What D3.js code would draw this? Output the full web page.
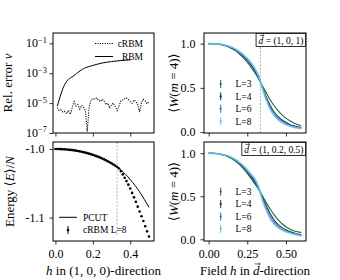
<!DOCTYPE html>
<html><head><meta charset="utf-8">
<script src="https://cdn.jsdelivr.net/npm/d3@7"></script>
<style>body{margin:0;background:#fff}svg{display:block}</style>
</head><body><svg id="c" width="340" height="280"></svg>
<script>
// ---------------- DATA ----------------
// Top-left: relative error vs h in (1,0,0)
const errH_cRBM = [0.01,0.02,0.03,0.04,0.05,0.06,0.07,0.08,0.09,0.10,0.11,0.12,0.13,0.14,0.15,0.16,0.17,0.18,0.19,0.20,0.21,0.22,0.23,0.24,0.25,0.26,0.27,0.28,0.29,0.30,0.31,0.32,0.33,0.34,0.35,0.36,0.37,0.38,0.39,0.40,0.41,0.42,0.43,0.44,0.45,0.46,0.47,0.48,0.49,0.50];
const err_cRBM = [5.0e-6,3.2e-6,3.5e-6,2.5e-6,2.8e-6,2.0e-6,3.2e-6,1.8e-6,5.0e-6,1.26e-5,
  6.3e-6,7.9e-6,4.0e-6,7.1e-6,5.6e-6,3.2e-6,1.26e-7,5.0e-6,1.6e-5,2.0e-5,
  1.8e-5,2.2e-5,1.6e-5,1.26e-5,1.8e-5,1.4e-5,7.9e-6,1.0e-5,4.5e-6,7.9e-6,
  1.0e-5,5.6e-6,3.2e-6,6.3e-6,1.4e-5,1.6e-5,2.0e-5,2.2e-5,1.8e-5,1.26e-5,
  1.0e-5,1.6e-5,1.26e-5,7.9e-6,2.5e-6,1.1e-5,1.8e-5,1.4e-5,8.9e-6,1.26e-5];
const errH_RBM = [0.01,0.05,0.10,0.15,0.20,0.25,0.30,0.35,0.40];
const err_RBM = [6.3e-6,1.8e-4,7.1e-4,2.0e-3,3.3e-3,4.8e-3,6.0e-3,7.1e-3,7.8e-3];
const errTicks = [1e-1,1e-3,1e-5,1e-7];
const errTickExp = ["\u22121","\u22123","\u22125","\u22127"];

// Bottom-left: energy
const pcutH = [0.00,0.05,0.10,0.15,0.20,0.25,0.30,0.35,0.40,0.45,0.50];
const pcutE = [-1.0000,-1.0005,-1.0020,-1.0046,-1.0085,-1.0138,-1.0209,-1.0305,-1.0445,-1.0625,-1.0850];
const eH = [0.00,0.01,0.02,0.03,0.04,0.05,0.06,0.07,0.08,0.09,0.10,0.11,0.12,0.13,0.14,0.15,0.16,0.17,0.18,0.19,0.20,0.21,0.22,0.23,0.24,0.25,0.26,0.27,0.28,0.29,0.30,0.31,0.32,0.33,0.34,0.35,0.36,0.37,0.38,0.39,0.40,0.41,0.42,0.43,0.44,0.45,0.46,0.47,0.48,0.49,0.50];
const eCRBM = [-1.0000,-1.0000,-1.0001,-1.0002,-1.0003,-1.0005,-1.0007,-1.0010,-1.0013,-1.0016,
  -1.0020,-1.0024,-1.0029,-1.0034,-1.0040,-1.0046,-1.0053,-1.0060,-1.0068,-1.0076,
  -1.0085,-1.0094,-1.0104,-1.0115,-1.0126,-1.0138,-1.0151,-1.0164,-1.0178,-1.0193,
  -1.0209,-1.0226,-1.0244,-1.0263,-1.0285,-1.0325,-1.0370,-1.0418,-1.0468,-1.0520,
  -1.0575,-1.0640,-1.0705,-1.0770,-1.0840,-1.0910,-1.0980,-1.1050,-1.1125,-1.1200,-1.1275];
const eTicks = [-1.0,-1.1];
const leftXTicks = [0.0,0.2,0.4];

// Right panels: Wilson loop vs field
const wH = [0.000,0.025,0.050,0.075,0.100,0.125,0.150,0.175,0.200,0.225,0.250,0.275,0.300,0.325,0.350,0.375,0.400,0.425,0.450,0.475,0.500,0.525,0.550,0.575,0.600];
const sizes = ["L=3","L=4","L=6","L=8"];
const colors = ["#1d6a35","#17275f","#2673b0","#6fbfe3"];
const wA_L3 = [1.000,0.999,0.996,0.990,0.980,0.965,0.945,0.918,0.883,0.840,0.790,0.732,0.668,0.598,0.515,0.440,0.360,0.295,0.240,0.195,0.158,0.128,0.104,0.085,0.070];
const wA_L4 = [1.000,0.999,0.996,0.991,0.982,0.969,0.951,0.927,0.896,0.858,0.812,0.757,0.692,0.612,0.500,0.390,0.295,0.225,0.175,0.137,0.108,0.087,0.071,0.059,0.050];
const wA_L6 = [1.000,0.999,0.997,0.992,0.984,0.971,0.955,0.932,0.903,0.867,0.824,0.772,0.707,0.622,0.490,0.370,0.270,0.200,0.152,0.118,0.094,0.076,0.062,0.052,0.044];
const wA_L8 = [1.000,0.999,0.997,0.992,0.985,0.973,0.958,0.936,0.908,0.874,0.833,0.782,0.718,0.630,0.482,0.355,0.255,0.187,0.140,0.108,0.085,0.069,0.057,0.048,0.041];
const wB_L3 = [1.000,0.999,0.995,0.988,0.976,0.959,0.936,0.906,0.867,0.820,0.765,0.705,0.640,0.575,0.500,0.420,0.345,0.280,0.225,0.180,0.145,0.120,0.100,0.088,0.078];
const wB_L4 = [1.000,0.999,0.996,0.989,0.978,0.963,0.942,0.915,0.880,0.837,0.786,0.727,0.662,0.585,0.480,0.380,0.290,0.220,0.170,0.135,0.110,0.090,0.075,0.062,0.052];
const wB_L6 = [1.000,0.999,0.996,0.990,0.980,0.966,0.946,0.920,0.887,0.847,0.799,0.742,0.680,0.590,0.460,0.350,0.255,0.190,0.145,0.115,0.094,0.078,0.065,0.054,0.045];
const wB_L8 = [1.000,0.999,0.996,0.990,0.981,0.967,0.948,0.923,0.891,0.852,0.806,0.752,0.700,0.600,0.445,0.330,0.235,0.175,0.135,0.107,0.088,0.073,0.060,0.050,0.040];
const rightXTicks = [0.00,0.25,0.50];
const rightXLabels = ["0.00","0.25","0.50"];
const wTicks = [0.0,0.5,1.0];
const hCrit = 0.33;
const hCritRight = 0.335;

// ---------------- DRAWING ----------------
const FONT = "'Liberation Serif', 'DejaVu Serif', serif";
const TICK = 12, LAB = 13, LEG = 9.5;
const svg = d3.select("#c");
svg.append("rect").attr("width",340).attr("height",280).attr("fill","#fff");

// rich text helper: parts [{t, it, sup, arrow}]
function rich(parent, parts, x, y, size, anchor) {
  const g = parent.append("g");
  let cx = 0;
  parts.forEach(p => {
    const fs = p.sup ? size*0.7 : size;
    const t = g.append("text").attr("x", cx).attr("y", p.sup ? -size*0.38 : 0)
      .attr("font-family", FONT).attr("font-size", fs).attr("fill", "#000")
      .style("font-style", p.it ? "italic" : "normal").style("white-space","pre")
      .text(p.t.replace(/ /g, "\u00a0"));
    const w = t.node().getComputedTextLength();
    if (p.arrow) {
      const yy = -size*0.85, a = cx + w*0.25, b = cx + w + 0.8;
      g.append("path").attr("d", `M${a},${yy}L${b},${yy}M${b-1.6},${yy-1.2}L${b},${yy}L${b-1.6},${yy+1.2}`)
        .attr("fill","none").attr("stroke","#000").attr("stroke-width",0.6);
    }
    cx += w;
  });
  const dx = anchor === "middle" ? -cx/2 : anchor === "end" ? -cx : 0;
  g.attr("transform", `translate(${x+dx},${y})`);
  return cx;
}

function frame(x0,x1,y0,y1){
  svg.append("rect").attr("x",x0).attr("y",y0).attr("width",x1-x0).attr("height",y1-y0)
    .attr("fill","none").attr("stroke","#000").attr("stroke-width",1);
}
function styleAxis(g){
  g.select(".domain").remove();
  g.selectAll(".tick line").attr("stroke","#000").attr("stroke-width",0.8);
  g.selectAll(".tick text").attr("font-family",FONT).attr("font-size",TICK).attr("fill","#000");
}

const L = {x0:53, x1:154}, R = {x0:204, x1:306};
const T = {y0:33, y1:133}, B = {y0:142, y1:241};

const xL = d3.scaleLinear().domain([-0.013,0.527]).range([L.x0,L.x1]);
const xR = d3.scaleLinear().domain([-0.03,0.63]).range([R.x0,R.x1]);
const yErr = d3.scaleLog().domain([1e-7,0.49]).range([T.y1,T.y0]);
const yE = d3.scaleLinear().domain([-1.1341,-0.9898]).range([B.y1,B.y0]);
const yWA = d3.scaleLinear().domain([-0.01,1.12]).range([T.y1,T.y0]);
const yWB = d3.scaleLinear().domain([-0.02,1.13]).range([B.y1,B.y0]);

// ---- Top-left panel ----
{
  svg.append("clipPath").attr("id","cTL").append("rect").attr("x",L.x0).attr("y",T.y0).attr("width",L.x1-L.x0).attr("height",T.y1-T.y0);
  const g = svg.append("g").attr("clip-path","url(#cTL)");
  const lineC = d3.line().x((d,i)=>xL(errH_cRBM[i])).y(d=>yErr(d));
  g.append("path").attr("d", lineC(err_cRBM)).attr("fill","none").attr("stroke","#000")
    .attr("stroke-width",1.1).attr("stroke-dasharray","1.1,1.3");
  const lineR = d3.line().x((d,i)=>xL(errH_RBM[i])).y(d=>yErr(d)).curve(d3.curveMonotoneX);
  g.append("path").attr("d", lineR(err_RBM)).attr("fill","none").attr("stroke","#000").attr("stroke-width",1);
  const ax = svg.append("g").attr("transform",`translate(${L.x0},0)`)
    .call(d3.axisLeft(yErr).tickValues(errTicks).tickSize(3.5).tickFormat(""));
  styleAxis(ax);
  errTicks.forEach((v,i)=>{
    rich(svg,[{t:"10"},{t:errTickExp[i],sup:true}], L.x0-6, yErr(v)+4, TICK, "end");
  });
  const axb = svg.append("g").attr("transform",`translate(0,${T.y1})`)
    .call(d3.axisBottom(xL).tickValues(leftXTicks).tickSize(3.5).tickFormat(""));
  styleAxis(axb);
  frame(L.x0,L.x1,T.y0,T.y1);
  // legend
  svg.append("line").attr("x1",95).attr("x2",113).attr("y1",43.5).attr("y2",43.5)
    .attr("stroke","#000").attr("stroke-width",1.1).attr("stroke-dasharray","1.1,1.3");
  svg.append("line").attr("x1",95).attr("x2",113).attr("y1",56.5).attr("y2",56.5)
    .attr("stroke","#000").attr("stroke-width",1);
  rich(svg,[{t:"cRBM"}],143,46.8,LEG,"end");
  rich(svg,[{t:"RBM"}],143,59.8,LEG,"end");
  const gl = svg.append("g").attr("transform",`translate(12,${(T.y0+T.y1)/2}) rotate(-90)`);
  rich(gl,[{t:"Rel. error "},{t:"\u03bd",it:true}],0,0,LAB,"middle");
}

// ---- Bottom-left panel ----
{
  svg.append("clipPath").attr("id","cBL").append("rect").attr("x",L.x0).attr("y",B.y0).attr("width",L.x1-L.x0).attr("height",B.y1-B.y0);
  const g = svg.append("g").attr("clip-path","url(#cBL)");
  g.append("line").attr("x1",xL(hCrit)).attr("x2",xL(hCrit)).attr("y1",B.y0).attr("y2",B.y1-5)
    .attr("stroke","#aaa").attr("stroke-width",0.9).attr("stroke-dasharray","2,1.5");
  const lineP = d3.line().x((d,i)=>xL(pcutH[i])).y(d=>yE(d)).curve(d3.curveMonotoneX);
  g.append("path").attr("d", lineP(pcutE)).attr("fill","none").attr("stroke","#000").attr("stroke-width",1);
  g.selectAll("circle.e").data(eCRBM).join("circle").attr("class","e")
    .attr("cx",(d,i)=>xL(eH[i])).attr("cy",d=>yE(d)).attr("r",1.3).attr("fill","#000");
  const ax = svg.append("g").attr("transform",`translate(${L.x0},0)`)
    .call(d3.axisLeft(yE).tickValues(eTicks).tickSize(3.5).tickPadding(5).tickFormat(d=>d.toFixed(1)));
  styleAxis(ax);
  const axb = svg.append("g").attr("transform",`translate(0,${B.y1})`)
    .call(d3.axisBottom(xL).tickValues(leftXTicks).tickSize(3.5).tickPadding(5).tickFormat(d=>d.toFixed(1)));
  styleAxis(axb);
  frame(L.x0,L.x1,B.y0,B.y1);
  // legend
  svg.append("line").attr("x1",59).attr("x2",77).attr("y1",217.3).attr("y2",217.3).attr("stroke","#000").attr("stroke-width",1);
  svg.append("line").attr("x1",68).attr("x2",68).attr("y1",226).attr("y2",234).attr("stroke","#000").attr("stroke-width",1);
  svg.append("circle").attr("cx",68).attr("cy",230).attr("r",1.3).attr("fill","#000");
  rich(svg,[{t:"PCUT"}],83,220.5,LEG,"start");
  rich(svg,[{t:"cRBM L=8"}],83,233,LEG,"start");
  const gl = svg.append("g").attr("transform",`translate(14,${(B.y0+B.y1)/2}) rotate(-90)`);
  rich(gl,[{t:"Energy \u27e8"},{t:"E",it:true},{t:"\u27e9/"},{t:"N",it:true}],0,0,LAB,"middle");
  rich(svg,[{t:"h",it:true},{t:" in (1, 0, 0)-direction"}],(L.x0+L.x1)/2,275,LAB,"middle");
}

// ---- Right panels ----
function rightPanel(id, Y, yS, series, showX, label, showCrit, legY) {
  svg.append("clipPath").attr("id",id).append("rect").attr("x",R.x0).attr("y",Y.y0).attr("width",R.x1-R.x0).attr("height",Y.y1-Y.y0);
  const g = svg.append("g").attr("clip-path",`url(#${id})`);
  if (showCrit) {
    g.append("line").attr("x1",xR(hCritRight)).attr("x2",xR(hCritRight)).attr("y1",Y.y0).attr("y2",Y.y1)
      .attr("stroke","#aaa").attr("stroke-width",0.9).attr("stroke-dasharray","2,1.5");
  }
  const line = d3.line().x((d,i)=>xR(wH[i])).y(d=>yS(d)).curve(d3.curveMonotoneX);
  series.forEach((s,k)=>{
    g.append("path").attr("d", line(s)).attr("fill","none").attr("stroke",colors[k])
      .attr("stroke-width", k===3 ? 1.7 : 1.1).attr("stroke-opacity", k===3 ? 0.9 : 1);
  });
  const ax = svg.append("g").attr("transform",`translate(${R.x0},0)`)
    .call(d3.axisLeft(yS).tickValues(wTicks).tickSize(3.5).tickPadding(5).tickFormat(d=>d.toFixed(1)));
  styleAxis(ax);
  const axb = svg.append("g").attr("transform",`translate(0,${Y.y1})`)
    .call(d3.axisBottom(xR).tickValues(rightXTicks).tickSize(3.5).tickPadding(5)
      .tickFormat((d,i)=> showX ? rightXLabels[i] : ""));
  styleAxis(axb);
  frame(R.x0,R.x1,Y.y0,Y.y1);
  // label box
  const tmp = svg.append("g").attr("opacity",0);
  const w = rich(tmp, label, 0, 0, 9.5, "start");
  tmp.remove();
  const bw = w + 5, bh = 13;
  svg.append("rect").attr("x",R.x1-bw).attr("y",Y.y0+0.5).attr("width",bw-0.5).attr("height",bh)
    .attr("fill","#fff").attr("stroke","#000").attr("stroke-width",0.8);
  rich(svg, label, R.x1-bw/2, Y.y0+10.5, 9.5, "middle");
  // legend
  sizes.forEach((s,k)=>{
    const yy = legY + k*12.4;
    svg.append("line").attr("x1",220.7).attr("x2",220.7).attr("y1",yy-4).attr("y2",yy+4)
      .attr("stroke",colors[k]).attr("stroke-width",1);
    svg.append("circle").attr("cx",220.7).attr("cy",yy).attr("r",1.1).attr("fill",colors[k]);
    rich(svg,[{t:s}],235.5,yy+3.3,LEG,"start");
  });
  const gl = svg.append("g").attr("transform",`translate(178,${(Y.y0+Y.y1)/2}) rotate(-90)`);
  rich(gl,[{t:"\u27e8"},{t:"W",it:true},{t:"("},{t:"m",it:true},{t:" = 4)\u27e9"}],0,0,LAB,"middle");
}
rightPanel("cTR", T, yWA, [wA_L3,wA_L4,wA_L6,wA_L8], false,
  [{t:"d",it:true,arrow:true},{t:" = (1, 0, 1)"}], true, 84);
rightPanel("cBR", B, yWB, [wB_L3,wB_L4,wB_L6,wB_L8], true,
  [{t:"d",it:true,arrow:true},{t:" = (1, 0.2, 0.5)"}], false, 191.7);
rich(svg,[{t:"Field "},{t:"h",it:true},{t:" in "},{t:"d",it:true,arrow:true},{t:"-direction"}],(R.x0+R.x1)/2,275,LAB,"middle");
</script></body></html>
